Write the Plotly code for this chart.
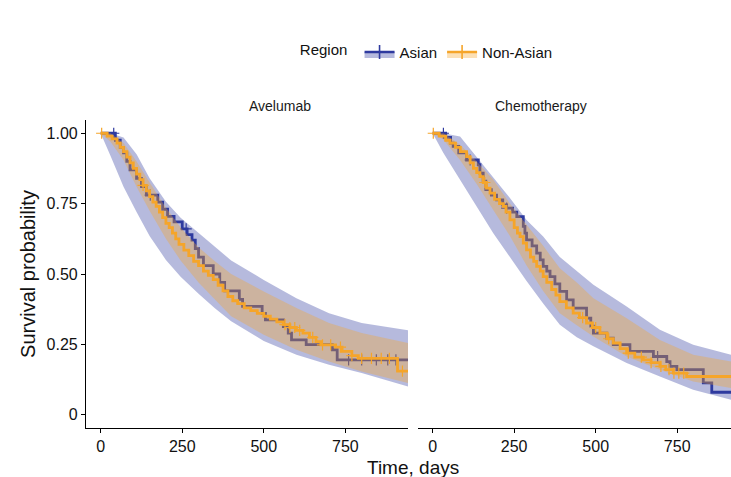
import numpy as np
import plotly.graph_objects as go

# ---------------- DATA ----------------
panels = ["Avelumab", "Chemotherapy"]
groups = ["Asian", "Non-Asian"]
x_ticks = [0, 250, 500, 750]
y_ticks = [0, 0.25, 0.5, 0.75, 1.0]
y_ticklabels = ["0", "0.25", "0.50", "0.75", "1.00"]

# Avelumab - Asian KM steps
ave_asian_t = [0, 45, 60, 70, 80, 90, 110, 125, 140, 175, 190, 205, 225, 250, 265, 280, 290, 300, 315,
               345, 365, 380, 425, 435, 495, 505, 560, 575, 585, 630, 710, 725, 942]
ave_asian_s = [1.0, 0.975, 0.95, 0.93, 0.90, 0.87, 0.84, 0.81, 0.78, 0.755, 0.73, 0.705, 0.685, 0.66, 0.64,
               0.62, 0.59, 0.56, 0.53, 0.50, 0.47, 0.44, 0.41, 0.385, 0.36, 0.337, 0.313, 0.29, 0.266, 0.249,
               0.231, 0.195, 0.195]
ave_asian_cens = [40, 152, 262, 760, 800, 845, 880, 905]

# Avelumab - Non-Asian KM steps
ave_non_t = [0, 20, 35, 50, 60, 70, 80, 90, 100, 110, 120, 130, 140, 150, 160, 170, 180, 190, 200, 210, 220,
             230, 240, 255, 270, 285, 300, 315, 330, 345, 360, 375, 390, 405, 420, 440, 460, 480, 500, 520,
             540, 560, 580, 600, 620, 640, 660, 675, 720, 740, 770, 790, 910, 942]
ave_non_s = [1.0, 0.99, 0.98, 0.965, 0.95, 0.935, 0.915, 0.895, 0.875, 0.855, 0.835, 0.815, 0.795, 0.775,
             0.755, 0.74, 0.72, 0.70, 0.68, 0.665, 0.645, 0.625, 0.605, 0.585, 0.565, 0.545, 0.53, 0.51,
             0.495, 0.48, 0.46, 0.44, 0.42, 0.405, 0.395, 0.38, 0.37, 0.36, 0.35, 0.34, 0.33, 0.32, 0.31,
             0.30, 0.29, 0.275, 0.26, 0.248, 0.24, 0.225, 0.21, 0.20, 0.155, 0.155]
ave_non_cens = [3, 130, 565, 580, 595, 610, 650, 680, 705, 735, 770, 800, 830, 860, 885, 925]

# Chemotherapy - Asian KM steps
chemo_asian_t = [0, 40, 55, 63, 80, 104, 140, 145, 155, 163, 180, 196, 215, 227, 245, 258, 278, 283, 288,
                 305, 319, 330, 339, 350, 360, 375, 390, 411, 431, 472, 485, 493, 534, 554, 605, 677, 718,
                 728, 749, 830, 856, 915]
chemo_asian_s = [1.0, 0.985, 0.965, 0.953, 0.93, 0.905, 0.888, 0.858, 0.83, 0.80, 0.78, 0.763, 0.745, 0.734,
                 0.72, 0.704, 0.669, 0.645, 0.621, 0.60, 0.574, 0.55, 0.527, 0.51, 0.491, 0.465, 0.438,
                 0.408, 0.379, 0.343, 0.315, 0.29, 0.272, 0.249, 0.225, 0.207, 0.189, 0.172, 0.16, 0.113,
                 0.08, 0.08]
chemo_asian_cens = [33, 115, 227, 690]

# Chemotherapy - Non-Asian KM steps
chemo_non_t = [0, 20, 40, 53, 70, 85, 104, 115, 125, 135, 145, 155, 165, 176, 190, 205, 217, 225, 237, 250,
               260, 268, 278, 288, 300, 310, 319, 330, 339, 350, 365, 378, 390, 410, 431, 450, 472, 490, 513,
               535, 554, 575, 595, 620, 646, 670, 697, 715, 738, 779, 915]
chemo_non_s = [1.0, 0.99, 0.975, 0.965, 0.95, 0.935, 0.917, 0.895, 0.875, 0.86, 0.846, 0.825, 0.805, 0.787,
               0.765, 0.75, 0.74, 0.72, 0.692, 0.665, 0.645, 0.633, 0.61, 0.586, 0.56, 0.545, 0.527, 0.51,
               0.491, 0.47, 0.445, 0.425, 0.402, 0.38, 0.361, 0.345, 0.326, 0.31, 0.29, 0.27, 0.255, 0.235,
               0.219, 0.205, 0.195, 0.185, 0.172, 0.16, 0.148, 0.136, 0.136]
chemo_non_cens = [2, 160, 460, 500, 540, 600, 640, 670, 700, 725, 740, 755, 770]

# Confidence bands
ave_band_t = [0, 30, 70, 110, 150, 200, 245, 300, 350, 400, 500, 600, 700, 800, 942]
ave_asian_lo = [1.0, 0.92, 0.81, 0.72, 0.635, 0.55, 0.49, 0.43, 0.378, 0.332, 0.262, 0.213, 0.178, 0.148, 0.10]
ave_asian_hi = [1.0, 1.0, 0.985, 0.925, 0.84, 0.757, 0.70, 0.645, 0.595, 0.548, 0.479, 0.414, 0.361, 0.326, 0.30]
ave_non_lo = [1.0, 0.97, 0.905, 0.81, 0.725, 0.625, 0.548, 0.47, 0.41, 0.35, 0.284, 0.231, 0.189, 0.154, 0.113]
ave_non_hi = [1.0, 1.0, 0.965, 0.90, 0.825, 0.735, 0.665, 0.595, 0.545, 0.50, 0.438, 0.379, 0.326, 0.29, 0.255]

chemo_band_t = [0, 33, 84, 135, 186, 237, 288, 339, 390, 442, 493, 595, 697, 799, 915]
chemo_asian_lo = [1.0, 0.93, 0.834, 0.74, 0.645, 0.562, 0.475, 0.395, 0.32, 0.275, 0.243, 0.184, 0.136, 0.089, 0.053]
chemo_asian_hi = [1.0, 1.0, 0.988, 0.915, 0.84, 0.77, 0.692, 0.633, 0.56, 0.51, 0.462, 0.385, 0.302, 0.249, 0.213]
chemo_non_lo = [1.0, 0.977, 0.905, 0.82, 0.73, 0.635, 0.53, 0.44, 0.361, 0.318, 0.278, 0.207, 0.16, 0.118, 0.095]
chemo_non_hi = [1.0, 1.0, 0.96, 0.90, 0.835, 0.75, 0.675, 0.60, 0.52, 0.47, 0.414, 0.343, 0.266, 0.213, 0.189]

# ---------------- STYLE ----------------
COL = {"Asian": "#2E3A9F", "Non-Asian": "#F5A52A"}
FILL = {"Asian": "rgba(46,58,159,0.35)", "Non-Asian": "rgba(245,165,42,0.35)"}
FONT = "Liberation Sans, Arial, sans-serif"

data = {
    ("Avelumab", "Asian"): (ave_asian_t, ave_asian_s, ave_asian_cens, ave_band_t, ave_asian_lo, ave_asian_hi),
    ("Avelumab", "Non-Asian"): (ave_non_t, ave_non_s, ave_non_cens, ave_band_t, ave_non_lo, ave_non_hi),
    ("Chemotherapy", "Asian"): (chemo_asian_t, chemo_asian_s, chemo_asian_cens, chemo_band_t, chemo_asian_lo, chemo_asian_hi),
    ("Chemotherapy", "Non-Asian"): (chemo_non_t, chemo_non_s, chemo_non_cens, chemo_band_t, chemo_non_lo, chemo_non_hi),
}


def surv_at(ts, ss, c):
    i = np.searchsorted(np.array(ts), c, side="right") - 1
    return ss[max(i, 0)]


fig = go.Figure()
for pi, panel in enumerate(panels):
    xa = "x" if pi == 0 else "x2"
    ya = "y" if pi == 0 else "y2"
    for g in groups:
        t, s, cens, bt, lo, hi = data[(panel, g)]
        fig.add_trace(go.Scatter(
            x=list(bt) + list(bt[::-1]), y=list(hi) + list(lo[::-1]),
            fill="toself", fillcolor=FILL[g], line=dict(width=0), mode="lines",
            hoverinfo="skip", showlegend=False, xaxis=xa, yaxis=ya))
        fig.add_trace(go.Scatter(
            x=t, y=s, mode="lines", line=dict(color=COL[g], width=2.8, shape="hv"),
            showlegend=False, xaxis=xa, yaxis=ya))
        fig.add_trace(go.Scatter(
            x=cens, y=[surv_at(t, s, c) for c in cens], mode="markers",
            marker=dict(symbol="cross-thin", size=8, line=dict(width=1.2, color=COL[g]), color=COL[g]),
            showlegend=False, xaxis=xa, yaxis=ya))

# legend entries
for g in groups:
    fig.add_trace(go.Scatter(
        x=[None], y=[None], mode="lines+markers", name=g,
        line=dict(color=COL[g], width=2.6),
        fill="toself", fillcolor=FILL[g],
        marker=dict(symbol="cross-thin", size=10, line=dict(width=1.6, color=COL[g]), color=COL[g]),
        xaxis="x", yaxis="y"))

axis_common = dict(showgrid=False, zeroline=False, showline=True, linecolor="black", linewidth=1.1,
                   ticks="outside", ticklen=4, tickwidth=1.1, tickcolor="black",
                   tickfont=dict(size=16, color="#111111", family=FONT))

fig.update_layout(
    width=731, height=477,
    margin=dict(l=86, r=0, t=120, b=49),
    plot_bgcolor="white", paper_bgcolor="white",
    font=dict(family=FONT, color="#111111"),
    xaxis=dict(domain=[0, 0.4992], range=[-45, 942], tickvals=x_ticks, anchor="y", **axis_common),
    xaxis2=dict(domain=[0.5152, 1.0], range=[-44, 915], tickvals=x_ticks, anchor="y2", **axis_common),
    yaxis=dict(domain=[0, 1], range=[-0.047, 1.047], tickvals=y_ticks, ticktext=y_ticklabels, anchor="x",
               title=dict(text="Survival probability", font=dict(size=20, family=FONT), standoff=5),
               **axis_common),
    yaxis2=dict(domain=[0, 1], range=[-0.047, 1.047], anchor="x2", showgrid=False, zeroline=False,
                showline=False, showticklabels=False, ticks=""),
    legend=dict(orientation="h", x=0.53, xanchor="center", y=1.22, yanchor="middle",
                title=dict(text="Region ", font=dict(size=15, family=FONT)),
                font=dict(size=15, family=FONT), itemwidth=30),
    showlegend=True,
    annotations=[
        dict(text="Avelumab", x=(0 + 0.4992) / 2, y=1.044, xref="paper", yref="paper",
             showarrow=False, font=dict(size=14, family=FONT, color="#1a1a1a"), yanchor="middle"),
        dict(text="Chemotherapy", x=0.78, y=1.044, xref="paper", yref="paper",
             showarrow=False, font=dict(size=14, family=FONT, color="#1a1a1a"), yanchor="middle"),
        dict(text="Time, days", x=(413 - 86) / 645, y=-0.128, xref="paper", yref="paper",
             showarrow=False, font=dict(size=19, family=FONT, color="#111111"), yanchor="middle"),
    ],
)

fig.write_html("out.html")
